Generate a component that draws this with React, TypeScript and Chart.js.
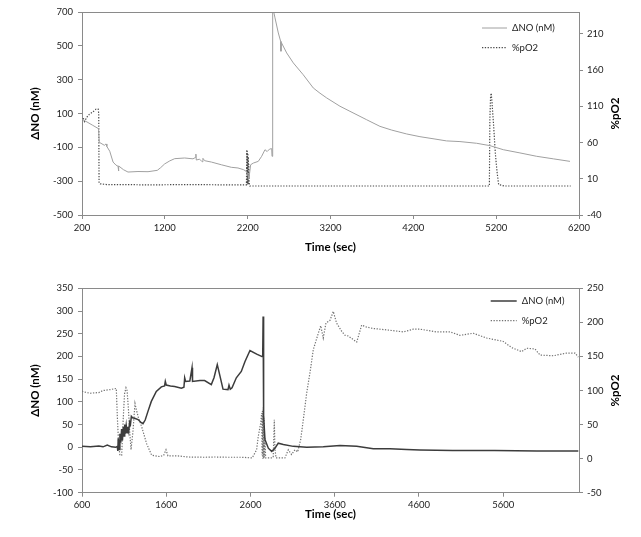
import React, { useEffect, useRef } from "react";
import { Chart, registerables } from "chart.js";

Chart.register(...registerables);

// ---------- Top panel data ----------
const topNoTime = [200, 260, 330, 400, 408, 470, 490, 500, 535, 575, 610, 635, 640, 645, 700, 755, 876, 997, 1109, 1150, 1198, 1260, 1319, 1440, 1540, 1570, 1575, 1580, 1620, 1650, 1660, 1681, 1762, 1882, 2002, 2083, 2150, 2183, 2205, 2215, 2236, 2268, 2328, 2369, 2409, 2435, 2465, 2490, 2494, 2502, 2515, 2530, 2570, 2598, 2602, 2606, 2671, 2751, 2871, 2992, 3073, 3154, 3314, 3435, 3637, 3797, 3939, 4120, 4280, 4450, 4600, 4763, 4964, 5125, 5286, 5487, 5689, 5890, 6091];
const topNoValues = [65, 50, 30, 10, -70, -88, -80, -95, -123, -187, -205, -212, -240, -210, -232, -246, -243, -244, -236, -220, -198, -180, -167, -163, -168, -160, -140, -175, -170, -185, -165, -179, -187, -203, -218, -222, -232, -242, -265, -285, -203, -193, -183, -153, -114, -125, -110, -108, -153, 700, 700, 665, 576, 527, 468, 520, 458, 399, 329, 251, 220, 192, 143, 113, 63, 24, 2, -21, -37, -50, -62, -66, -76, -90, -114, -133, -153, -168, -183];

const topO2Time = [200, 215, 230, 245, 260, 290, 330, 370, 395, 402, 406, 420, 500, 700, 1000, 1500, 2000, 2185, 2190, 2193, 2196, 2199, 2202, 2205, 2208, 2211, 2214, 2218, 2225, 2400, 3000, 4000, 5100, 5118, 5124, 5132, 5140, 5150, 5170, 5190, 5210, 5230, 5300, 6100];
const topO2Values = [91, 94, 89, 92, 95, 99, 102, 106, 106, 100, 4, 3, 2, 2, 1.5, 2, 1.5, 1.5, 50, 2, 48, 3, 45, 2, 40, 3, 30, 5, 0, 0, 0, 0, 0, 0, 92, 122, 128, 115, 82, 45, 20, 2, 0, 0];

// ---------- Bottom panel data ----------
const botNoTime = [600, 700, 800, 850, 900, 950, 1000, 1019, 1025, 1030, 1040, 1050, 1060, 1070, 1080, 1090, 1100, 1107, 1115, 1125, 1135, 1145, 1155, 1165, 1175, 1186, 1200, 1225, 1265, 1300, 1324, 1350, 1383, 1423, 1482, 1542, 1580, 1589, 1600, 1650, 1700, 1780, 1810, 1819, 1830, 1880, 1906, 1912, 2000, 2056, 2135, 2167, 2206, 2234, 2274, 2333, 2345, 2360, 2381, 2432, 2491, 2535, 2594, 2674, 2745, 2750, 2756, 2772, 2812, 2852, 2891, 2930, 2990, 3108, 3267, 3464, 3663, 3861, 4058, 4256, 4454, 4612, 5000, 5500, 6000, 6492];
const botNoValues = [2, 1, 3, 1, 5, 1, 0, 2, -8, 20, -5, 30, 10, 40, 15, 45, 25, 50, 30, 48, 32, 45, 35, 55, 50, 68, 65, 64, 61, 55, 52, 60, 79, 101, 123, 133, 135, 145, 137, 135, 134, 130, 132, 153, 145, 146, 175, 145, 147, 147, 138, 153, 182, 160, 128, 127, 137, 128, 131, 153, 167, 189, 213, 205, 199, 288, 68, 17, -2, -9, -2, 9, 6, 2, 0, 1, 4, 2, -3, -3, -5, -6, -7, -7, -8, -8];

const botO2Time = [600, 650, 700, 800, 850, 920, 1007, 1020, 1035, 1050, 1071, 1090, 1105, 1122, 1135, 1150, 1166, 1182, 1205, 1229, 1245, 1270, 1308, 1367, 1427, 1526, 1570, 1597, 1620, 1740, 1858, 2056, 2175, 2333, 2500, 2620, 2673, 2693, 2721, 2733, 2738, 2742, 2747, 2752, 2757, 2762, 2767, 2772, 2780, 2850, 2870, 2883, 2890, 2903, 3009, 3049, 3088, 3128, 3160, 3196, 3227, 3267, 3306, 3346, 3405, 3434, 3464, 3496, 3544, 3583, 3622, 3682, 3722, 3761, 3861, 3920, 3980, 4058, 4217, 4415, 4533, 4612, 4810, 4968, 5087, 5245, 5404, 5601, 5700, 5818, 5878, 5978, 6037, 6195, 6353, 6452, 6492];
const botO2Values = [99, 97, 96, 97, 100, 101, 103, 60, 20, 5, 5, 60, 95, 104, 100, 75, 40, 13, 40, 81, 72, 60, 47, 22, 5, 3, 5, 13, 4, 4, 2.4, 2, 2.4, 2, 2, 1, 13, 33, 52, 67, 5, 70, 0, 75, 0, 60, 2, 30, 1, 1, 2, 57, 15, 1, 1, 13, 6, 13, 10, 28, 57, 96, 126, 160, 184, 195, 177, 199, 203, 216, 199, 187, 181, 180, 171, 196, 193, 191, 189, 186, 190, 190, 186, 186, 181, 184, 177, 172, 163, 157, 162, 161, 152, 151, 155, 155, 149];

// ---------- Labels & ticks ----------
const seriesLabels = ["\u0394NO (nM)", "%pO2"];
const xTitle = "Time (sec)";
const leftTitle = "\u0394NO (nM)";
const rightTitle = "%pO2";

const topXTicks = [200, 1200, 2200, 3200, 4200, 5200, 6200];
const topLeftTicks = [-500, -300, -100, 100, 300, 500, 700];
const topRightTicks = [-40, 10, 60, 110, 160, 210];
const botXTicks = [600, 1600, 2600, 3600, 4600, 5600];
const botLeftTicks = [-100, -50, 0, 50, 100, 150, 200, 250, 300, 350];
const botRightTicks = [-50, 0, 50, 100, 150, 200, 250];

const AXIS = "#8a8a8a";
const FONT = "Lato, 'Open Sans', sans-serif";

function pts(t: number[], v: number[]) {
  return t.map((x, i) => ({ x, y: v[i] }));
}

const overlayPlugin = {
  id: "overlay",
  afterDraw(chart: any, _args: any, opts: any) {
    const ctx = chart.ctx;
    const a = chart.chartArea;
    ctx.save();
    ctx.strokeStyle = AXIS;
    ctx.lineWidth = 1;
    ctx.beginPath();
    ctx.moveTo(a.left, Math.round(a.top) + 0.5);
    ctx.lineTo(a.right, Math.round(a.top) + 0.5);
    ctx.stroke();
    ctx.restore();

    // right axis title
    ctx.save();
    ctx.translate(615, (a.top + a.bottom) / 2);
    ctx.rotate(-Math.PI / 2);
    ctx.font = `bold 11.5px ${FONT}`;
    ctx.fillStyle = "#000";
    ctx.textAlign = "center";
    ctx.textBaseline = "middle";
    ctx.fillText(rightTitle, 0, 0);
    ctx.restore();

    // legend
    ctx.save();
    ctx.font = `9.5px ${FONT}`;
    ctx.textBaseline = "middle";
    ctx.textAlign = "left";
    chart.data.datasets.forEach((ds: any, i: number) => {
      const y = a.top + opts.legendDy + i * 19.7;
      const x0 = a.right - opts.legendDx;
      ctx.strokeStyle = ds.borderColor;
      ctx.lineWidth = ds.borderWidth;
      ctx.setLineDash(ds.borderDash || []);
      ctx.beginPath();
      ctx.moveTo(x0, y);
      ctx.lineTo(x0 + opts.legendLen, y);
      ctx.stroke();
      ctx.setLineDash([]);
      ctx.fillStyle = "#222";
      ctx.fillText(ds.label, x0 + opts.legendLen + 5, y);
    });
    ctx.restore();
  },
};

function fixedTicks(list: number[]) {
  return (scale: any) => {
    scale.ticks = list.map((v) => ({ value: v }));
  };
}

function makeConfig(p: any) {
  const tickFont = { family: FONT, size: 9.5 };
  return {
    type: "line",
    data: {
      datasets: [
        {
          label: seriesLabels[0],
          data: pts(p.noT, p.noV),
          yAxisID: "y",
          borderColor: p.noColor,
          borderWidth: p.noWidth,
          pointRadius: 0,
          tension: 0,
        },
        {
          label: seriesLabels[1],
          data: pts(p.o2T, p.o2V),
          yAxisID: "y1",
          borderColor: p.o2Color,
          borderWidth: p.o2Width,
          borderDash: [1.3, 1.5],
          pointRadius: 0,
          tension: 0,
        },
      ],
    },
    options: {
      responsive: false,
      animation: false,
      layout: { padding: { top: p.top, left: 0, right: 0, bottom: 0 } },
      plugins: {
        legend: { display: false },
        tooltip: { enabled: false },
        overlay: { legendDx: p.legendDx, legendDy: p.legendDy, legendLen: p.legendLen },
      },
      scales: {
        x: {
          type: "linear",
          min: p.xMin,
          max: p.xMax,
          afterBuildTicks: fixedTicks(p.xTicks),
          afterFit: (s: any) => {
            s.height = p.xHeight;
          },
          ticks: { font: tickFont, color: "#222", padding: 3, maxRotation: 0, callback: (v: any) => String(v) },
          grid: { drawOnChartArea: false, tickLength: 4, color: AXIS },
          border: { color: AXIS },
          title: { display: true, text: xTitle, font: { family: FONT, size: 11.5, weight: "bold" }, color: "#000", padding: { top: 0, bottom: p.xTitlePad } },
        },
        y: {
          type: "linear",
          position: "left",
          min: p.lMin,
          max: p.lMax,
          afterBuildTicks: fixedTicks(p.lTicks),
          afterFit: (s: any) => {
            s.width = 82;
          },
          ticks: { font: tickFont, color: "#222", padding: 5, callback: (v: any) => String(v) },
          grid: { drawOnChartArea: false, tickLength: 4, color: AXIS },
          border: { color: AXIS },
          title: { display: true, text: leftTitle, font: { family: FONT, size: 11.5, weight: "bold" }, color: "#000", padding: { top: 28, bottom: 0 } },
        },
        y1: {
          type: "linear",
          position: "right",
          min: p.rMin,
          max: p.rMax,
          afterBuildTicks: fixedTicks(p.rTicks),
          afterFit: (s: any) => {
            s.width = 62;
          },
          ticks: { font: tickFont, color: "#222", padding: 4, callback: (v: any) => String(v) },
          grid: { drawOnChartArea: false, tickLength: 4, color: AXIS },
          border: { color: AXIS },
        },
      },
    },
    plugins: [overlayPlugin],
  };
}

function Panel(props: { cfg: any; height: number; top: number }) {
  const ref = useRef<HTMLCanvasElement | null>(null);
  useEffect(() => {
    if (!ref.current) return;
    const chart = new Chart(ref.current, makeConfig(props.cfg) as any);
    return () => chart.destroy();
  }, []);
  return (
    <canvas
      ref={ref}
      width={641}
      height={props.height}
      style={{ position: "absolute", left: 0, top: props.top, width: 641, height: props.height }}
    />
  );
}

const topCfg = {
  noT: topNoTime, noV: topNoValues, o2T: topO2Time, o2V: topO2Values,
  noColor: "#a0a0a0", noWidth: 1, o2Color: "#4a4a4a", o2Width: 1.2,
  xMin: 200, xMax: 6200, xTicks: topXTicks,
  lMin: -500, lMax: 700, lTicks: topLeftTicks,
  rMin: -40, rMax: 240, rTicks: topRightTicks,
  top: 12, xHeight: 53, xTitlePad: 13.5,
  legendDx: 97, legendDy: 16, legendLen: 25,
};

const botCfg = {
  noT: botNoTime, noV: botNoValues, o2T: botO2Time, o2V: botO2Values,
  noColor: "#3c3c3c", noWidth: 1.5, o2Color: "#727272", o2Width: 1.2,
  xMin: 600, xMax: 6500, xTicks: botXTicks,
  lMin: -100, lMax: 350, lTicks: botLeftTicks,
  rMin: -50, rMax: 250, rTicks: botRightTicks,
  top: 20.3, xHeight: 44.3, xTitlePad: 15.4,
  legendDx: 88.3, legendDy: 12.7, legendLen: 26,
};

export default function App() {
  return (
    <div style={{ position: "absolute", left: 0, top: 0, width: 641, height: 537, background: "#fff" }}>
      <Panel cfg={topCfg} height={268} top={0} />
      <Panel cfg={botCfg} height={269} top={268} />
    </div>
  );
}
